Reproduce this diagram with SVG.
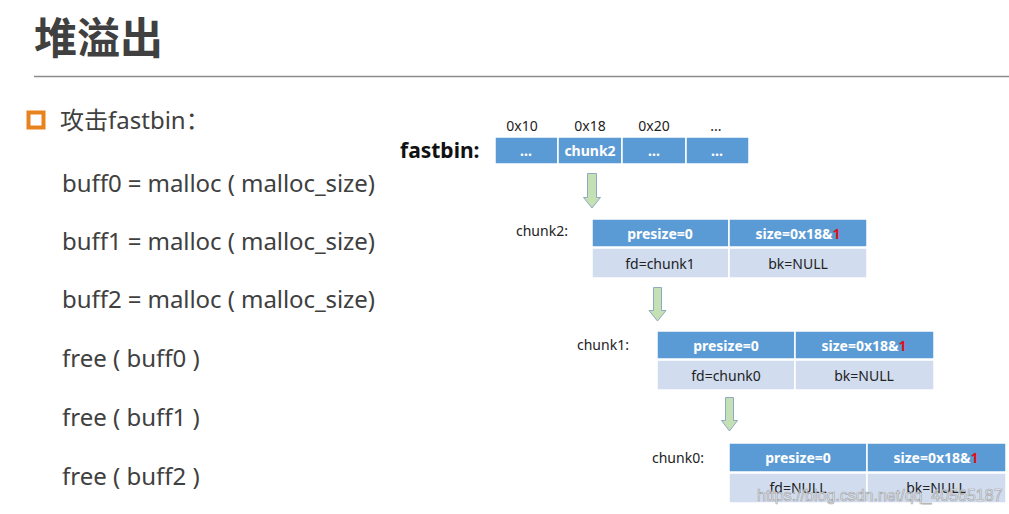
<svg xmlns="http://www.w3.org/2000/svg" width="1009" height="514" viewBox="0 0 1009 514">
<style>
.t{font-family:"Noto Sans","Noto Sans CJK SC",sans-serif;fill:#404040}
.code{font-family:"Noto Sans","Noto Sans CJK SC",sans-serif;font-size:24px;fill:#404040}
.c{font-family:"Noto Sans","Liberation Sans",sans-serif;font-size:14px;fill:#222}
.hd{fill:#5b9bd5;stroke:#fff;stroke-width:1.5}
.rw{fill:#d1dcef;stroke:#fff;stroke-width:1.5}
.ht{font-family:"Noto Sans","Liberation Sans",sans-serif;font-size:14px;font-weight:bold;fill:#fff;text-anchor:middle}
.rt{font-family:"Noto Sans","Liberation Sans",sans-serif;font-size:14px;fill:#222;text-anchor:middle}
.red{fill:#e0101a}
.arr{fill:#c5e0b4;stroke:#8ea9c1;stroke-width:1}
</style>
<rect width="1009" height="514" fill="#fff"/>
<g id="title">
<text class="t" x="34" y="54" font-size="43" font-weight="bold" font-family="Noto Sans CJK SC,sans-serif">堆溢出</text>
<line x1="34" y1="76.5" x2="1009" y2="76.5" stroke="#8c8c8c" stroke-width="1.5"/>
</g>
<g id="bullet">
<rect x="28.5" y="112.5" width="15" height="15" fill="none" stroke="#e8821e" stroke-width="4"/>
<text class="t" x="60" y="129" font-size="24">攻击fastbin：</text>
</g>
<g id="code">
<text class="code" x="62" y="192" textLength="313">buff0 = malloc ( malloc_size)</text>
<text class="code" x="62" y="250" textLength="313">buff1 = malloc ( malloc_size)</text>
<text class="code" x="62" y="308" textLength="313">buff2 = malloc ( malloc_size)</text>
<text class="code" x="62" y="367">free ( buff0 )</text>
<text class="code" x="62" y="426">free ( buff1 )</text>
<text class="code" x="62" y="485">free ( buff2 )</text>
</g>
<g id="fastbin">
<text x="400" y="158" font-family="Noto Sans,Liberation Sans,sans-serif" font-size="21" font-weight="bold" fill="#111">fastbin:</text>
<text class="c" x="522" y="131" text-anchor="middle">0x10</text>
<text class="c" x="590" y="131" text-anchor="middle">0x18</text>
<text class="c" x="654" y="131" text-anchor="middle">0x20</text>
<text class="c" x="716" y="131" text-anchor="middle">...</text>
<rect class="hd" x="495" y="137" width="63" height="27"/>
<rect class="hd" x="558" y="137" width="64" height="27"/>
<rect class="hd" x="622" y="137" width="64" height="27"/>
<rect class="hd" x="686" y="137" width="63" height="27"/>
<text class="ht" x="526" y="156">...</text>
<text class="ht" x="590" y="156">chunk2</text>
<text class="ht" x="654" y="156">...</text>
<text class="ht" x="717" y="156">...</text>
</g>
<g id="connectors">
<path class="arr" d="M587.5,173.5 H596.5 V197.5 H600.5 L592,208 L583.5,197.5 H587.5 Z"/>
<path class="arr" d="M653.5,287.5 H661.5 V310.5 H666 L657.5,321 L649,310.5 H653.5 Z"/>
<path class="arr" d="M725.5,397.5 H733.5 V420.5 H737.5 L729.5,431 L721.5,420.5 H725.5 Z"/>
</g>
<g id="chunk2">
<text class="c" x="516" y="236">chunk2:</text>
<rect class="hd" x="592" y="219" width="137" height="28"/>
<rect class="hd" x="729" y="219" width="138" height="28"/>
<rect class="rw" x="592" y="248" width="137" height="30"/>
<rect class="rw" x="729" y="248" width="138" height="30"/>
<text class="ht" x="660" y="239">presize=0</text>
<text class="ht" x="798" y="239">size=0x18&amp;<tspan class="red">1</tspan></text>
<text class="rt" x="660" y="269">fd=chunk1</text>
<text class="rt" x="798" y="269">bk=NULL</text>
</g>
<g id="chunk1">
<text class="c" x="577" y="350">chunk1:</text>
<rect class="hd" x="657" y="331" width="138" height="28"/>
<rect class="hd" x="795" y="331" width="139" height="28"/>
<rect class="rw" x="657" y="360" width="138" height="30"/>
<rect class="rw" x="795" y="360" width="139" height="30"/>
<text class="ht" x="726" y="351">presize=0</text>
<text class="ht" x="864" y="351">size=0x18&amp;<tspan class="red">1</tspan></text>
<text class="rt" x="726" y="381">fd=chunk0</text>
<text class="rt" x="864" y="381">bk=NULL</text>
</g>
<g id="chunk0">
<text class="c" x="652" y="463">chunk0:</text>
<rect class="hd" x="729" y="443" width="138" height="29"/>
<rect class="hd" x="867" y="443" width="139" height="29"/>
<rect class="rw" x="729" y="473" width="138" height="30"/>
<rect class="rw" x="867" y="473" width="139" height="30"/>
<text class="ht" x="798" y="463">presize=0</text>
<text class="ht" x="936" y="463">size=0x18&amp;<tspan class="red">1</tspan></text>
<text class="rt" x="798" y="493">fd=NULL</text>
<text class="rt" x="936" y="493">bk=NULL</text>
</g>
<g id="watermark">
<text x="757" y="501" font-family="Liberation Sans,sans-serif" font-size="16" fill="#f4f4f4" fill-opacity="0.85" stroke="#8a8a8a" stroke-opacity="0.7" stroke-width="0.7">https://blog.csdn.net/qq_40565187</text>
</g>
</svg>
